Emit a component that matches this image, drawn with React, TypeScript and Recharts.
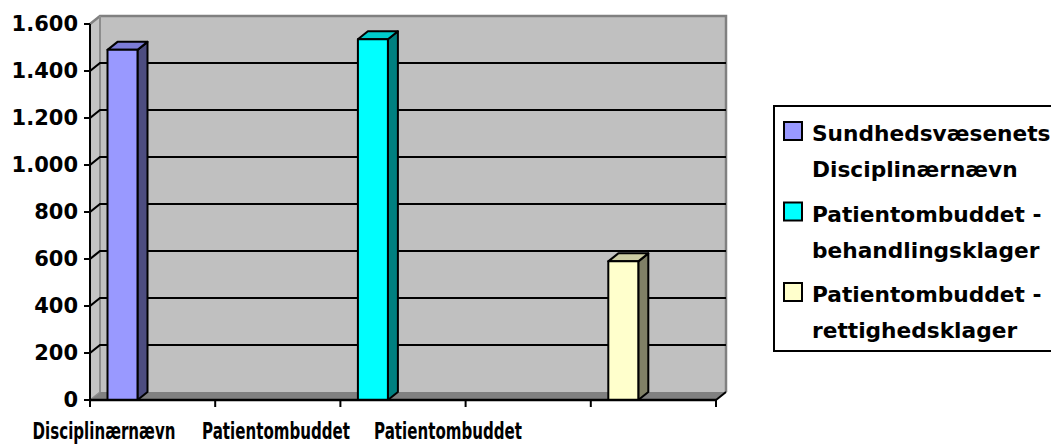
import React from 'react';
import { BarChart, Bar, XAxis, YAxis, ReferenceArea, Legend } from 'recharts';

// ---- data ----
const slots = ['k1', 'k2', 'k3', 'k4', 'k5'];
const xLabels = ['Disciplinærnævn', 'Patientombuddet', 'Patientombuddet'];
const seriesNames = [
  'Sundhedsvæsenets Disciplinærnævn',
  'Patientombuddet - behandlingsklager',
  'Patientombuddet - rettighedsklager',
];
const disciplinaer = [1490, null, null, null, null];
const behandling = [null, null, 1535, null, null];
const rettighed = [null, null, null, null, 590];
const yTicks = [0, 200, 400, 600, 800, 1000, 1200, 1400, 1600];
const gridValues = [200, 400, 600, 800, 1000, 1200, 1400];

const data = slots.map((s, i) => ({
  slot: s,
  s0: disciplinaer[i],
  s1: behandling[i],
  s2: rettighed[i],
}));

// ---- style ----
const W = 1051;
const H = 446;
const MARGIN = { top: 24, right: 335, bottom: 0, left: 0 };
const Y_W = 90;
const X_H = 46;
const PLOT_W = W - MARGIN.left - MARGIN.right - Y_W;
const BAND = PLOT_W / slots.length;
const DX = 10;
const DY = 8;
const FONT = "'DejaVu Sans', sans-serif";

const palettes = [
  { front: '#9999FF', top: '#7C7CD6', side: '#4D4D80' },
  { front: '#00FFFF', top: '#00CCCC', side: '#008080' },
  { front: '#FFFFCC', top: '#CCCCA3', side: '#808066' },
];

const fmt = (v: number) => String(v).replace(/\B(?=(\d{3})+(?!\d))/g, '.');

const makeBarShape = (pal: { front: string; top: string; side: string }) => (p: any) => {
  const { x, y, width: w, height: h } = p;
  if (!h || h <= 0 || !isFinite(y)) return <g />;
  const sx = x - 30.5;
  const st = { stroke: '#000', strokeWidth: 2, strokeLinejoin: 'round' as const };
  return (
    <g>
      <polygon
        points={`${sx + w},${y} ${sx + w + DX},${y - DY} ${sx + w + DX},${y + h - DY} ${sx + w},${y + h}`}
        fill={pal.side}
        {...st}
      />
      <polygon
        points={`${sx},${y} ${sx + DX},${y - DY} ${sx + w + DX},${y - DY} ${sx + w},${y}`}
        fill={pal.top}
        {...st}
      />
      <rect x={sx} y={y} width={w} height={h} fill={pal.front} {...st} />
    </g>
  );
};

const Walls = (p: any) => {
  const { x, y, width: w, height: h } = p;
  return (
    <g>
      <polygon
        points={`${x},${y} ${x + DX},${y - DY} ${x + DX},${y + h - DY} ${x},${y + h}`}
        fill="#C4C4C4"
      />
      <rect x={x + DX} y={y - DY} width={w} height={h} fill="#C0C0C0" />
      <polygon
        points={`${x},${y + h} ${x + DX},${y + h - DY} ${x + w + DX},${y + h - DY} ${x + w},${y + h}`}
        fill="#808080"
      />
      <path
        d={`M${x},${y} L${x + DX},${y - DY} L${x + DX + w},${y - DY} L${x + DX + w},${y + h - DY}`}
        stroke="#808080"
        strokeWidth={2.5}
        fill="none"
      />
      <line x1={x + DX} y1={y - DY} x2={x + DX} y2={y + h - DY} stroke="#8C8C8C" strokeWidth={2} />
      <line x1={x} y1={y + h} x2={x + DX} y2={y + h - DY} stroke="#8C8C8C" strokeWidth={1.5} />
      <line x1={x + w} y1={y + h} x2={x + w + DX} y2={y + h - DY} stroke="#000" strokeWidth={2} />
    </g>
  );
};

const GridLine = (p: any) => {
  const { x, y, width: w } = p;
  return (
    <path
      d={`M${x},${y} L${x + DX},${y - DY} L${x + DX + w},${y - DY}`}
      stroke="#000"
      strokeWidth={2.2}
      fill="none"
    />
  );
};

const XTick = (p: any) => {
  const { x, y, index } = p;
  const half = BAND / 2;
  const items: any[] = [
    <line key="l" x1={x - half} x2={x - half} y1={y} y2={y + 7} stroke="#000" strokeWidth={2} />,
  ];
  if (index === slots.length - 1) {
    items.push(<line key="r" x1={x + half} x2={x + half} y1={y} y2={y + 7} stroke="#000" strokeWidth={2} />);
  }
  if (index === 0) {
    const left = x - half;
    xLabels.forEach((lab, k) => {
      const cx = left + 14 + k * 172;
      items.push(
        <text
          key={'t' + k}
          transform={`translate(${cx},${y + 39}) scale(0.67,1)`}
          textAnchor="middle"
          fontFamily={FONT}
          fontWeight="bold"
          fontSize={22.5}
          fill="#000"
        >
          {lab}
        </text>
      );
    });
  }
  return <g>{items}</g>;
};

const splitName = (name: string) => {
  const i = name.indexOf(' - ');
  if (i >= 0) return [name.slice(0, i + 2), name.slice(i + 3)];
  const j = name.indexOf(' ');
  return j >= 0 ? [name.slice(0, j), name.slice(j + 1)] : [name];
};

const renderLegend = (props: any) => {
  const payload = props.payload || [];
  return (
    <svg width={300} height={252} style={{ display: 'block', overflow: 'visible' }}>
      <rect x={1} y={1} width={320} height={245} fill="#fff" stroke="#000" strokeWidth={2} />
      {payload.map((e: any, i: number) => {
        const base = 36 + i * 80.5;
        const lines = splitName(String(e.value));
        return (
          <g key={i}>
            <rect x={11} y={base - 19} width={18} height={18} fill={e.color} stroke="#000" strokeWidth={2} />
            {lines.map((ln, k) => (
              <text
                key={k}
                x={39}
                y={base + k * 36}
                fontFamily={FONT}
                fontWeight="bold"
                fontSize={21.7}
                fill="#000"
              >
                {ln}
              </text>
            ))}
          </g>
        );
      })}
    </svg>
  );
};

export default function App() {
  const keys = ['s0', 's1', 's2'];
  return (
    <div
      style={{
        position: 'absolute',
        left: 0,
        top: 0,
        width: W,
        height: H,
        overflow: 'hidden',
        background: '#fff',
      }}
    >
      <BarChart width={W} height={H} data={data} margin={MARGIN} barSize={30}>
        <ReferenceArea y1={0} y2={1600} ifOverflow="visible" shape={Walls} />
        {gridValues.map((v) => (
          <ReferenceArea key={v} y1={0} y2={v} ifOverflow="visible" shape={GridLine} />
        ))}
        <XAxis
          dataKey="slot"
          height={X_H}
          tickLine={false}
          tickSize={0}
          tickMargin={0}
          interval={0}
          axisLine={{ stroke: '#000', strokeWidth: 2.5 }}
          tick={XTick}
        />
        <YAxis
          width={Y_W}
          domain={[0, 1600]}
          ticks={yTicks}
          interval={0}
          tickFormatter={fmt}
          tickSize={6}
          tickMargin={6}
          axisLine={{ stroke: '#000', strokeWidth: 2 }}
          tickLine={{ stroke: '#000', strokeWidth: 2 }}
          tick={{ fill: '#000', fontSize: 21, fontWeight: 'bold', fontFamily: FONT }}
        />
        {keys.map((k, i) => (
          <Bar
            key={k}
            dataKey={k}
            name={seriesNames[i]}
            stackId="all"
            fill={palettes[i].front}
            isAnimationActive={false}
            shape={makeBarShape(palettes[i])}
          />
        ))}
        <Legend
          layout="horizontal"
          verticalAlign="middle"
          align="center"
          itemSorter="dataKey"
          content={renderLegend}
          wrapperStyle={{ left: 773, top: 105, width: 300, height: 252, margin: 0 }}
        />
      </BarChart>
    </div>
  );
}
